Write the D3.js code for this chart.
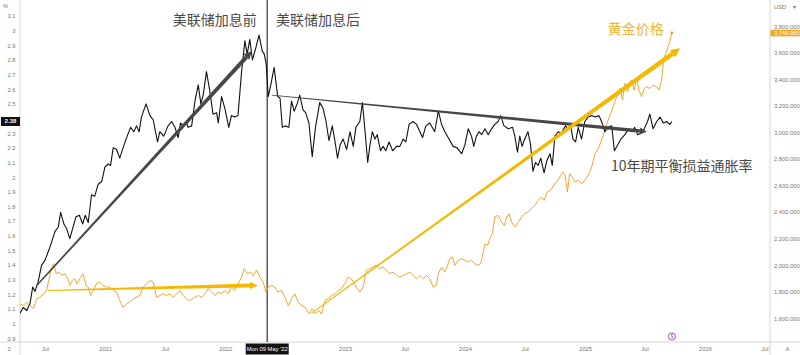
<!DOCTYPE html>
<html>
<head>
<meta charset="utf-8">
<script src="https://cdn.jsdelivr.net/npm/d3@7"></script>
<style>
  html, body { margin: 0; padding: 0; background: #fff; }
  svg { display: block; }
</style>
</head>
<body>
<div id="chart"></div>
<script>
// 10-year breakeven inflation (%), left axis
const beDates = ["2020-04-16","2020-04-26","2020-05-07","2020-05-17","2020-05-25","2020-06-01","2020-06-11","2020-06-21","2020-07-01","2020-07-16","2020-08-01","2020-08-11","2020-08-18","2020-08-28","2020-09-05","2020-09-15","2020-09-25","2020-10-04","2020-10-14","2020-10-24","2020-11-01","2020-11-10","2020-11-20","2020-11-30","2020-12-10","2020-12-21","2020-12-31","2021-01-10","2021-01-17","2021-01-25","2021-02-04","2021-02-14","2021-02-24","2021-03-07","2021-03-19","2021-03-29","2021-04-06","2021-04-14","2021-04-21","2021-05-05","2021-05-17","2021-05-27","2021-06-09","2021-06-16","2021-06-28","2021-07-11","2021-07-22","2021-08-01","2021-08-11","2021-08-18","2021-08-26","2021-09-05","2021-09-10","2021-09-21","2021-10-01","2021-10-11","2021-10-19","2021-10-26","2021-11-05","2021-11-15","2021-11-25","2021-12-06","2021-12-11","2021-12-21","2021-12-31","2022-01-12","2022-01-20","2022-01-30","2022-02-09","2022-02-20","2022-03-02","2022-03-09","2022-03-17","2022-03-25","2022-04-04","2022-04-14","2022-04-24","2022-04-30","2022-05-06","2022-05-12","2022-05-20","2022-05-30","2022-06-10","2022-06-17","2022-06-24","2022-07-02","2022-07-14","2022-07-22","2022-07-30","2022-08-08","2022-08-16","2022-08-26","2022-09-03","2022-09-13","2022-09-23","2022-10-03","2022-10-16","2022-10-26","2022-11-04","2022-11-13","2022-11-23","2022-12-01","2022-12-09","2022-12-17","2022-12-26","2023-01-06","2023-01-16","2023-01-26","2023-02-03","2023-02-15","2023-02-23","2023-03-03","2023-03-11","2023-03-18","2023-03-25","2023-04-02","2023-04-09","2023-04-19","2023-04-27","2023-05-05","2023-05-15","2023-05-26","2023-06-07","2023-06-17","2023-06-27","2023-07-05","2023-07-15","2023-07-27","2023-08-07","2023-08-17","2023-08-25","2023-09-04","2023-09-16","2023-10-01","2023-10-12","2023-10-22","2023-11-01","2023-11-11","2023-11-26","2023-12-08","2023-12-22","2024-01-01","2024-01-11","2024-01-21","2024-01-28","2024-02-05","2024-02-13","2024-02-21","2024-03-02","2024-03-12","2024-03-22","2024-04-01","2024-04-11","2024-04-19","2024-04-29","2024-05-12","2024-05-25","2024-06-01","2024-06-09","2024-06-16","2024-06-23","2024-07-01","2024-07-11","2024-07-19","2024-07-26","2024-08-03","2024-08-11","2024-08-19","2024-08-29","2024-09-06","2024-09-16","2024-09-23","2024-10-01","2024-10-11","2024-10-21","2024-11-02","2024-11-10","2024-11-18","2024-11-25","2024-12-03","2024-12-11","2024-12-21","2024-12-31","2025-01-10","2025-01-21","2025-01-31","2025-02-12","2025-02-22","2025-03-02","2025-03-12","2025-03-23","2025-03-31","2025-04-10","2025-04-20","2025-05-02","2025-05-14","2025-05-24","2025-06-01","2025-06-10","2025-06-20","2025-06-30","2025-07-10","2025-07-17","2025-07-27","2025-08-07","2025-08-17","2025-08-27","2025-09-06","2025-09-16","2025-09-22"];
const beValues = [1.07,1.11,1.09,1.14,1.25,1.22,1.29,1.40,1.43,1.52,1.63,1.66,1.76,1.68,1.65,1.58,1.66,1.73,1.74,1.68,1.74,1.69,1.88,1.87,1.95,1.97,2.07,2.09,2.08,2.20,2.19,2.13,2.20,2.27,2.34,2.31,2.35,2.31,2.41,2.50,2.42,2.39,2.24,2.31,2.28,2.35,2.38,2.34,2.27,2.37,2.35,2.38,2.34,2.35,2.52,2.63,2.50,2.56,2.72,2.59,2.43,2.44,2.37,2.55,2.47,2.34,2.42,2.41,2.42,2.72,2.93,2.84,2.94,2.80,2.88,2.97,2.86,2.84,2.77,2.55,2.63,2.75,2.55,2.54,2.34,2.35,2.34,2.52,2.45,2.50,2.56,2.46,2.44,2.37,2.14,2.34,2.51,2.47,2.38,2.25,2.35,2.25,2.13,2.22,2.26,2.19,2.31,2.21,2.34,2.38,2.51,2.31,2.10,2.22,2.31,2.26,2.29,2.18,2.21,2.18,2.24,2.18,2.21,2.21,2.26,2.24,2.36,2.38,2.36,2.31,2.27,2.35,2.37,2.31,2.45,2.36,2.31,2.27,2.21,2.20,2.16,2.22,2.33,2.28,2.21,2.28,2.31,2.29,2.33,2.29,2.33,2.36,2.38,2.42,2.35,2.33,2.34,2.28,2.17,2.28,2.21,2.26,2.31,2.22,2.04,2.10,2.08,2.13,2.03,2.11,2.16,2.08,2.28,2.31,2.30,2.35,2.33,2.35,2.26,2.24,2.34,2.26,2.38,2.41,2.42,2.41,2.42,2.37,2.31,2.34,2.35,2.18,2.22,2.26,2.29,2.33,2.31,2.34,2.29,2.30,2.33,2.38,2.43,2.33,2.38,2.41,2.37,2.38,2.36,2.38];

// gold price (USD), right axis
const goldDates = ["2020-04-16","2020-04-26","2020-05-07","2020-05-17","2020-05-27","2020-06-06","2020-06-16","2020-06-26","2020-07-06","2020-07-14","2020-07-21","2020-07-28","2020-08-05","2020-08-13","2020-08-21","2020-08-31","2020-09-07","2020-09-15","2020-09-23","2020-09-30","2020-10-07","2020-10-15","2020-10-25","2020-11-03","2020-11-10","2020-11-17","2020-11-25","2020-12-05","2020-12-15","2020-12-25","2021-01-05","2021-01-15","2021-01-25","2021-02-04","2021-02-14","2021-02-24","2021-03-07","2021-03-17","2021-03-27","2021-04-06","2021-04-16","2021-04-26","2021-05-07","2021-05-17","2021-05-27","2021-06-06","2021-06-16","2021-06-26","2021-07-07","2021-07-17","2021-07-27","2021-08-06","2021-08-16","2021-08-26","2021-09-05","2021-09-15","2021-10-01","2021-10-11","2021-10-21","2021-10-31","2021-11-10","2021-11-21","2021-12-01","2021-12-11","2021-12-21","2021-12-31","2022-01-10","2022-01-20","2022-01-30","2022-02-09","2022-02-20","2022-02-28","2022-03-10","2022-03-20","2022-03-27","2022-04-07","2022-04-17","2022-04-27","2022-05-05","2022-05-12","2022-05-22","2022-06-01","2022-06-11","2022-06-22","2022-07-02","2022-07-12","2022-07-22","2022-08-01","2022-08-11","2022-08-21","2022-09-01","2022-09-13","2022-09-23","2022-10-03","2022-10-13","2022-10-21","2022-11-01","2022-11-11","2022-11-21","2022-12-01","2022-12-11","2022-12-21","2022-12-31","2023-01-10","2023-01-20","2023-01-30","2023-02-04","2023-02-15","2023-02-25","2023-03-07","2023-03-17","2023-03-27","2023-04-06","2023-04-16","2023-04-26","2023-05-07","2023-05-17","2023-05-27","2023-06-07","2023-06-17","2023-06-27","2023-07-07","2023-07-17","2023-07-27","2023-08-07","2023-08-17","2023-08-27","2023-09-06","2023-09-16","2023-09-26","2023-10-05","2023-10-12","2023-10-22","2023-11-01","2023-11-09","2023-11-16","2023-11-24","2023-12-01","2023-12-11","2023-12-22","2024-01-01","2024-01-11","2024-01-21","2024-01-31","2024-02-10","2024-02-18","2024-02-25","2024-03-02","2024-03-10","2024-03-17","2024-03-25","2024-04-01","2024-04-11","2024-04-22","2024-04-30","2024-05-07","2024-05-14","2024-05-22","2024-06-01","2024-06-11","2024-06-21","2024-07-01","2024-07-11","2024-07-21","2024-08-01","2024-08-11","2024-08-21","2024-08-29","2024-09-08","2024-09-18","2024-09-28","2024-10-09","2024-10-16","2024-10-26","2024-11-02","2024-11-08","2024-11-15","2024-11-22","2024-12-01","2024-12-11","2024-12-21","2024-12-31","2025-01-10","2025-01-21","2025-01-31","2025-02-10","2025-02-18","2025-02-25","2025-03-04","2025-03-12","2025-03-20","2025-03-27","2025-04-07","2025-04-17","2025-04-25","2025-05-02","2025-05-10","2025-05-17","2025-05-22","2025-05-30","2025-06-07","2025-06-14","2025-06-22","2025-06-30","2025-07-07","2025-07-17","2025-07-27","2025-08-07","2025-08-14","2025-08-22","2025-08-27","2025-09-03","2025-09-11","2025-09-17","2025-09-22"];
const goldValues = [1710,1697,1722,1697,1672,1747,1759,1785,1810,1898,1974,2011,1936,1948,1923,1936,1910,1848,1885,1898,1860,1898,1936,1848,1835,1772,1810,1860,1873,1848,1835,1835,1810,1797,1734,1684,1709,1722,1747,1759,1772,1835,1860,1885,1873,1759,1772,1785,1772,1785,1759,1785,1810,1772,1747,1734,1759,1772,1759,1785,1823,1797,1772,1797,1785,1810,1785,1835,1810,1860,1910,1974,1936,1948,1923,1961,1910,1873,1797,1835,1848,1835,1797,1810,1759,1697,1747,1785,1722,1697,1684,1634,1672,1634,1659,1634,1734,1747,1772,1785,1810,1823,1860,1910,1898,1860,1835,1797,1835,1961,1974,1986,1999,1974,1986,1961,1936,1948,1923,1910,1923,1936,1948,1923,1898,1923,1898,1923,1898,1835,1848,1936,1986,1948,1999,2049,2062,1999,2036,2049,2036,2024,2036,2011,1999,2011,2087,2162,2150,2200,2238,2363,2376,2325,2300,2363,2389,2325,2288,2325,2363,2389,2401,2426,2451,2489,2514,2489,2552,2565,2603,2640,2665,2703,2665,2552,2690,2665,2627,2640,2615,2640,2678,2741,2841,2879,2929,2980,3030,3093,3143,3193,3269,3332,3244,3370,3306,3370,3395,3319,3408,3319,3269,3332,3344,3332,3357,3344,3319,3395,3521,3596,3646,3697,3749.985];

// hand-drawn trend arrows: [start, end] as [date, value]
const preHikeTrend = [["2020-06-06", 1.26], ["2022-03-23", 2.86]];
const postHikeTrend = [["2022-05-23", 2.56], ["2025-07-08", 2.31]];
const goldFlatTrend = [["2020-07-11", 1810], ["2022-04-11", 1848]];
const goldRiseTrend = [["2022-09-19", 1636], ["2025-10-17", 3634]];

const hikeDate = "2022-05-09";
const leftTicks = [0.9, 1, 1.1, 1.2, 1.3, 1.4, 1.5, 1.6, 1.7, 1.8, 1.9, 2, 2.1, 2.2, 2.3, 2.5, 2.6, 2.7, 2.8, 2.9, 3, 3.1];
const rightTicks = [1600, 1800, 2000, 2200, 2400, 2600, 2800, 3000, 3200, 3400, 3600, 3800];
const xTickDates = ["2020-07-01","2021-01-01","2021-07-01","2022-01-01","2023-01-01","2023-07-01","2024-01-01","2024-07-01","2025-01-01","2025-07-01","2026-01-01","2026-07-01"];

const parse = d3.utcParse('%Y-%m-%d');
const width = 800, height = 355;
const plotLeft = 20, plotRight = 770, plotBottom = 342;
const tickFont = '"Liberation Sans", Arial, sans-serif';
const cjkFont = '"Noto Sans CJK SC", "Noto Sans", sans-serif';

const x = d3.scaleUtc()
  .domain([parse('2021-01-01'), parse('2026-01-01')])
  .range([105.3, 705]);
const yL = d3.scaleLinear().domain([0.9, 3.1]).range([338.3, 16]);
const yR = d3.scaleLinear().domain([1600, 3800]).range([318.3, 26.3]);

const svg = d3.select('#chart')
  .append('svg')
  .attr('width', width)
  .attr('height', height)
  .style('background', '#fff');

svg.append('defs').append('clipPath').attr('id', 'plot')
  .append('rect')
  .attr('x', plotLeft).attr('y', 0)
  .attr('width', plotRight - plotLeft).attr('height', plotBottom);

// frame lines
svg.append('line').attr('x1', 0).attr('x2', width).attr('y1', plotBottom).attr('y2', plotBottom)
  .attr('stroke', '#d6d6d6').attr('stroke-width', 1);
svg.append('line').attr('x1', plotLeft).attr('x2', plotLeft).attr('y1', 0).attr('y2', height)
  .attr('stroke', '#d6d6d6').attr('stroke-width', 1);
svg.append('line').attr('x1', plotRight).attr('x2', plotRight).attr('y1', 0).attr('y2', height)
  .attr('stroke', '#d6d6d6').attr('stroke-width', 1);

// axes
function styleAxis(g) {
  g.select('.domain').remove();
  g.selectAll('text')
    .style('font-family', tickFont)
    .style('font-size', '5.8px')
    .attr('fill', '#777');
}

svg.append('g')
  .attr('transform', `translate(${plotLeft - 4.5},0)`)
  .call(d3.axisLeft(yL).tickValues(leftTicks).tickSize(0).tickPadding(0).tickFormat(d => String(d)))
  .call(styleAxis);

svg.append('g')
  .attr('transform', `translate(${plotRight},0)`)
  .call(d3.axisRight(yR).tickValues(rightTicks).tickSize(0).tickPadding(4).tickFormat(d3.format(',.3f')))
  .call(styleAxis);

svg.append('g')
  .attr('transform', `translate(0,${plotBottom})`)
  .call(d3.axisBottom(x)
    .tickValues(xTickDates.map(parse))
    .tickSize(0)
    .tickPadding(4.5)
    .tickFormat(d => d.getUTCMonth() === 6 ? 'Jul' : d3.utcFormat('%Y')(d)))
  .call(styleAxis);

const plot = svg.append('g').attr('clip-path', 'url(#plot)');

// crosshair at the first hike
plot.append('line')
  .attr('x1', x(parse(hikeDate))).attr('x2', x(parse(hikeDate)))
  .attr('y1', 0).attr('y2', plotBottom)
  .attr('stroke', '#505050').attr('stroke-width', 1.4);

const goldData = d3.zip(goldDates, goldValues).map(([d, v]) => ({ date: parse(d), value: v }));
const beData = d3.zip(beDates, beValues).map(([d, v]) => ({ date: parse(d), value: v }));

plot.append('path')
  .datum(goldData)
  .attr('fill', 'none')
  .attr('stroke', '#EFA634')
  .attr('stroke-width', 1)
  .attr('stroke-linejoin', 'round')
  .attr('d', d3.line().x(d => x(d.date)).y(d => yR(d.value)));

plot.append('path')
  .datum(beData)
  .attr('fill', 'none')
  .attr('stroke', '#111')
  .attr('stroke-width', 1.1)
  .attr('stroke-linejoin', 'round')
  .attr('d', d3.line().x(d => x(d.date)).y(d => yL(d.value)));

// tapered arrow from a to b (pixel coords)
function taperArrow(a, b, w0, w1, headLen, headW, color) {
  const dx = b[0] - a[0], dy = b[1] - a[1];
  const len = Math.hypot(dx, dy);
  const ux = dx / len, uy = dy / len;
  const nx = -uy, ny = ux;
  const e = [b[0] - ux * headLen, b[1] - uy * headLen];
  const shaft = [
    [a[0] + nx * w0 / 2, a[1] + ny * w0 / 2],
    [e[0] + nx * w1 / 2, e[1] + ny * w1 / 2],
    [e[0] - nx * w1 / 2, e[1] - ny * w1 / 2],
    [a[0] - nx * w0 / 2, a[1] - ny * w0 / 2]
  ];
  const head = [
    [b[0], b[1]],
    [e[0] + nx * headW / 2, e[1] + ny * headW / 2],
    [e[0] - nx * headW / 2, e[1] - ny * headW / 2]
  ];
  plot.append('polygon').attr('points', shaft.join(' ')).attr('fill', color);
  plot.append('polygon').attr('points', head.join(' ')).attr('fill', color);
}

const ptL = p => [x(parse(p[0])), yL(p[1])];
const ptR = p => [x(parse(p[0])), yR(p[1])];

taperArrow(ptL(preHikeTrend[0]), ptL(preHikeTrend[1]), 1.4, 4.2, 8, 8, '#474747');
taperArrow(ptL(postHikeTrend[0]), ptL(postHikeTrend[1]), 0.8, 3.6, 7, 7, '#474747');
taperArrow(ptR(goldFlatTrend[0]), ptR(goldFlatTrend[1]), 0.9, 4, 8, 7, '#F5B800');
taperArrow(ptR(goldRiseTrend[0]), ptR(goldRiseTrend[1]), 0.9, 4.6, 9, 9, '#F5B800');

// last gold point marker
const lastGold = goldData[goldData.length - 1];
svg.append('circle')
  .attr('cx', x(lastGold.date)).attr('cy', yR(lastGold.value))
  .attr('r', 1.4).attr('fill', '#E29A2C');

// annotation text
const notes = [
  { text: '美联储加息前', x: 172.7, y: 19.3, color: '#4a4a4a' },
  { text: '美联储加息后', x: 276, y: 19.3, color: '#4a4a4a' },
  { text: '黄金价格', x: 607.7, y: 28.3, color: '#F2B43E' },
  { text: '10年期平衡损益通胀率', x: 611, y: 165, color: '#4a4a4a' }
];
svg.selectAll('text.note')
  .data(notes)
  .enter()
  .append('text')
  .attr('class', 'note')
  .attr('x', d => d.x)
  .attr('y', d => d.y)
  .attr('dominant-baseline', 'central')
  .style('font-family', cjkFont)
  .style('font-size', '14px')
  .attr('fill', d => d.color)
  .text(d => d.text);

// price labels on the scales
const lastBe = beData[beData.length - 1];
svg.append('rect')
  .attr('x', 1).attr('y', yL(lastBe.value) - 4.5)
  .attr('width', 19).attr('height', 9).attr('fill', '#111');
svg.append('text')
  .attr('x', 10.5).attr('y', yL(lastBe.value))
  .attr('text-anchor', 'middle').attr('dominant-baseline', 'central')
  .style('font-family', tickFont).style('font-size', '5.8px').style('font-weight', 'bold')
  .attr('fill', '#fff')
  .text(d3.format('.2f')(lastBe.value));

svg.append('rect')
  .attr('x', plotRight + 0.5).attr('y', yR(lastGold.value) - 3.2)
  .attr('width', 29.5).attr('height', 6.6).attr('fill', '#F5A51E');
svg.append('text')
  .attr('x', plotRight + 4).attr('y', yR(lastGold.value))
  .attr('dominant-baseline', 'central')
  .style('font-family', tickFont).style('font-size', '5.8px')
  .attr('fill', '#fff')
  .text(d3.format(',.3f')(lastGold.value));

// crosshair date label
const hx = x(parse(hikeDate));
svg.append('rect')
  .attr('x', hx - 21.5).attr('y', plotBottom + 1.5)
  .attr('width', 43).attr('height', 11).attr('fill', '#111');
svg.append('text')
  .attr('x', hx).attr('y', plotBottom + 7)
  .attr('text-anchor', 'middle').attr('dominant-baseline', 'central')
  .style('font-family', tickFont).style('font-size', '5.8px')
  .attr('fill', '#fff')
  .text("Mon 09 May '22");

// small chrome bits
const small = [
  { text: '%', x: 3, y: 6 },
  { text: 'USD', x: 774, y: 7 },
  { text: '▾', x: 793, y: 7 },
  { text: '2', x: 7.5, y: 349 },
  { text: 'A', x: 785.5, y: 349 }
];
svg.selectAll('text.chrome')
  .data(small)
  .enter()
  .append('text')
  .attr('class', 'chrome')
  .attr('x', d => d.x).attr('y', d => d.y)
  .attr('dominant-baseline', 'central')
  .style('font-family', tickFont).style('font-size', '5.8px')
  .attr('fill', '#777')
  .text(d => d.text);

// event marker
svg.append('circle').attr('cx', 672).attr('cy', 336.5).attr('r', 3.6)
  .attr('fill', '#fff').attr('stroke', '#9b3fc0').attr('stroke-width', 0.9);
svg.append('text').attr('x', 672).attr('y', 336.7)
  .attr('text-anchor', 'middle').attr('dominant-baseline', 'central')
  .style('font-family', tickFont).style('font-size', '4.5px')
  .attr('fill', '#9b3fc0').text('$');
</script>
</body>
</html>
